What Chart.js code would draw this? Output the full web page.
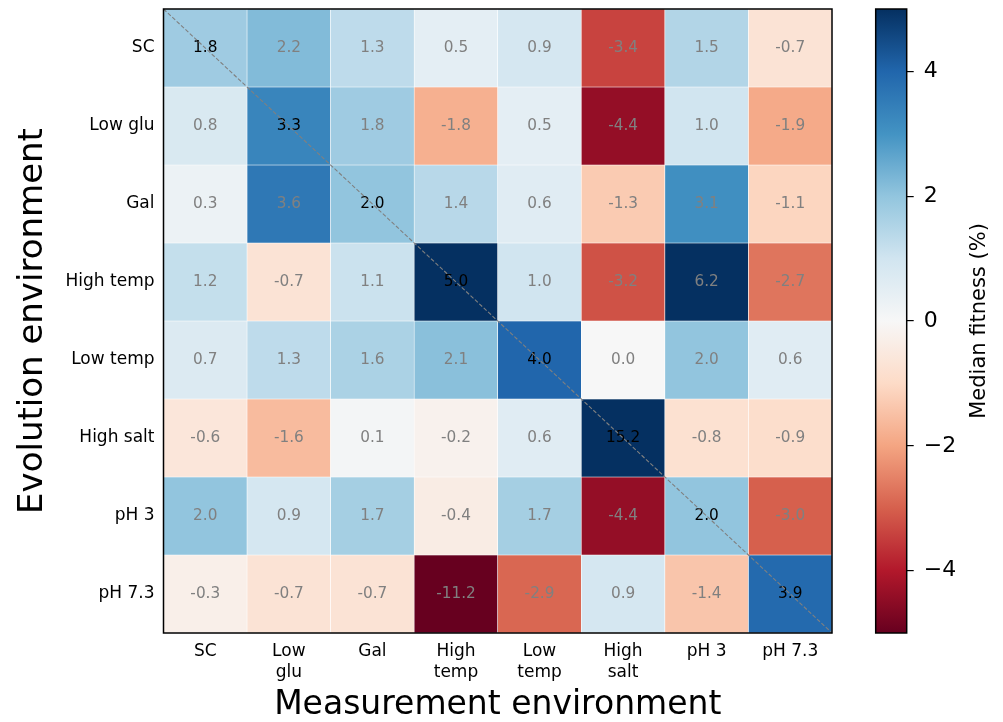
<!DOCTYPE html>
<html>
<head>
<meta charset="utf-8">
<script src="https://cdn.jsdelivr.net/npm/chart.js@4/dist/chart.umd.min.js"></script>
<style>
    html, body { margin: 0; padding: 0; background: #ffffff; }
    #wrap { position: relative; width: 1003px; height: 722px; overflow: hidden; }
    canvas { position: absolute; top: 0; }
    #heat { left: 0; }
    #bar { left: 860px; }
</style>
</head>
<body>
<div id="wrap">
    <canvas id="heat" width="860" height="722"></canvas>
    <canvas id="bar" width="143" height="722"></canvas>
</div>
<script>
// measurement environments (columns) and evolution environments (rows)
const measureLabels = [["SC"], ["Low", "glu"], ["Gal"], ["High", "temp"], ["Low", "temp"], ["High", "salt"], ["pH 3"], ["pH 7.3"]];
const evolveLabels = ["SC", "Low glu", "Gal", "High temp", "Low temp", "High salt", "pH 3", "pH 7.3"];

// median fitness (%), one array per evolution environment
const rowSC = [1.8, 2.2, 1.3, 0.5, 0.9, -3.4, 1.5, -0.7];
const rowLowGlu = [0.8, 3.3, 1.8, -1.8, 0.5, -4.4, 1.0, -1.9];
const rowGal = [0.3, 3.6, 2.0, 1.4, 0.6, -1.3, 3.1, -1.1];
const rowHighTemp = [1.2, -0.7, 1.1, 5.0, 1.0, -3.2, 6.2, -2.7];
const rowLowTemp = [0.7, 1.3, 1.6, 2.1, 4.0, 0.0, 2.0, 0.6];
const rowHighSalt = [-0.6, -1.6, 0.1, -0.2, 0.6, 15.2, -0.8, -0.9];
const rowPH3 = [2.0, 0.9, 1.7, -0.4, 1.7, -4.4, 2.0, -3.0];
const rowPH73 = [-0.3, -0.7, -0.7, -11.2, -2.9, 0.9, -1.4, 3.9];
const fitness = [rowSC, rowLowGlu, rowGal, rowHighTemp, rowLowTemp, rowHighSalt, rowPH3, rowPH73];

const colorbarTicks = [-4, -2, 0, 2, 4];
const vmin = -5;
const vmax = 5;

// matplotlib RdBu
const rdbu = ["#67001f", "#b2182b", "#d6604d", "#f4a582", "#fddbc7", "#f7f7f7",
    "#d1e5f0", "#92c5de", "#4393c3", "#2166ac", "#053061"];

const FONT = "'DejaVu Sans', 'Liberation Sans', sans-serif";

const hexToRgb = (hex) => [1, 3, 5].map((i) => parseInt(hex.slice(i, i + 2), 16));

function colorFor(v) {
    let t = (v - vmin) / (vmax - vmin);
    t = Math.max(0, Math.min(1, t));
    const pos = t * (rdbu.length - 1);
    const i = Math.min(Math.floor(pos), rdbu.length - 2);
    const f = pos - i;
    const a = hexToRgb(rdbu[i]);
    const b = hexToRgb(rdbu[i + 1]);
    const c = a.map((x, k) => Math.round(x + (b[k] - x) * f));
    return "rgb(" + c.join(",") + ")";
}

// chart.js pads vertical axes by half a label; the picture has none
const noEdgePad = (scale) => {
    scale.paddingTop = 0;
    scale.paddingBottom = 0;
};

const cellPlugin = {
    id: "cells",
    afterDatasetsDraw(chart) {
        const { ctx, chartArea } = chart;
        const xs = chart.scales.x;
        const ys = chart.scales.y;

        ctx.save();
        ctx.font = "15.3px " + FONT;
        ctx.textAlign = "center";
        ctx.textBaseline = "middle";
        fitness.forEach((row, r) => {
            row.forEach((v, c) => {
                ctx.fillStyle = r === c ? "#000000" : "#808080";
                ctx.fillText(v.toFixed(1), xs.getPixelForValue(c), ys.getPixelForValue(r + 0.5));
            });
        });
        ctx.restore();

        // diagonal dashed line
        ctx.save();
        ctx.strokeStyle = "#808080";
        ctx.lineWidth = 1.1;
        ctx.setLineDash([4, 2]);
        ctx.beginPath();
        ctx.moveTo(chartArea.left, chartArea.top);
        ctx.lineTo(chartArea.right, chartArea.bottom);
        ctx.stroke();
        ctx.restore();

        // frame
        ctx.save();
        ctx.strokeStyle = "#000000";
        ctx.lineWidth = 1.5;
        ctx.strokeRect(chartArea.left, chartArea.top, chartArea.right - chartArea.left, chartArea.bottom - chartArea.top);
        ctx.restore();
    },
};

const heatData = {
    labels: measureLabels,
    datasets: fitness.map((row, r) => ({
        label: evolveLabels[r],
        data: row.map(() => [r, r + 1]),
        backgroundColor: row.map(colorFor),
        borderColor: "#ffffff",
        borderWidth: 0.6,
        borderSkipped: false,
        barPercentage: 1,
        categoryPercentage: 1,
        grouped: false,
    })),
};

new Chart(document.getElementById("heat"), {
    type: "bar",
    data: heatData,
    options: {
        responsive: false,
        animation: false,
        events: [],
        layout: { padding: { top: 9, right: 28, bottom: 0, left: 0 } },
        plugins: { legend: { display: false }, tooltip: { enabled: false } },
        scales: {
            x: {
                grid: { display: false, drawTicks: false },
                border: { display: false },
                ticks: { color: "#000000", font: { family: FONT, size: 17, lineHeight: 1.25 }, padding: 8, maxRotation: 0, autoSkip: false },
                title: { display: true, text: "Measurement environment", color: "#000000", font: { family: FONT, size: 33, lineHeight: 1.0 }, padding: { top: 0, bottom: 0 } },
                afterFit: (scale) => {
                    scale.height = 89;
                    scale.paddingLeft = 0;
                    scale.paddingRight = 0;
                },
            },
            y: {
                type: "linear",
                min: 0,
                max: 8,
                reverse: true,
                grid: { display: false, drawTicks: false },
                border: { display: false },
                afterBuildTicks: (scale) => { scale.ticks = evolveLabels.map((_, i) => ({ value: i + 0.5 })); },
                ticks: { color: "#000000", font: { family: FONT, size: 17 }, padding: 9, autoSkip: false, callback: (v, i) => evolveLabels[i] },
                title: { display: true, text: "Evolution environment", color: "#000000", font: { family: FONT, size: 34 }, padding: { top: 13, bottom: 0 } },
                afterFit: (scale) => {
                    scale.width = 163.5;
                    noEdgePad(scale);
                },
            },
        },
    },
    plugins: [cellPlugin],
});

// colorbar
const barPlugin = {
    id: "cbar",
    afterDatasetsDraw(chart) {
        const { ctx, chartArea } = chart;
        ctx.save();
        ctx.strokeStyle = "#000000";
        ctx.lineWidth = 1.5;
        ctx.strokeRect(chartArea.left, chartArea.top, chartArea.right - chartArea.left, chartArea.bottom - chartArea.top);
        ctx.restore();

        ctx.save();
        ctx.translate(120, (chartArea.top + chartArea.bottom) / 2);
        ctx.rotate(-Math.PI / 2);
        ctx.font = "21px " + FONT;
        ctx.fillStyle = "#000000";
        ctx.textAlign = "center";
        ctx.textBaseline = "middle";
        ctx.fillText("Median fitness (%)", 0, 0);
        ctx.restore();
    },
};

function gradientFill(context) {
    const chart = context.chart;
    const ys = chart.scales.y;
    if (!chart.chartArea || !ys) {
        return rdbu[5];
    }
    const g = chart.ctx.createLinearGradient(0, ys.getPixelForValue(vmin), 0, ys.getPixelForValue(vmax));
    rdbu.forEach((c, i) => g.addColorStop(i / (rdbu.length - 1), c));
    return g;
}

new Chart(document.getElementById("bar"), {
    type: "bar",
    data: {
        labels: [""],
        datasets: [{ data: [[vmin, vmax]], backgroundColor: gradientFill, borderWidth: 0, barPercentage: 1, categoryPercentage: 1 }],
    },
    options: {
        responsive: false,
        animation: false,
        events: [],
        layout: { padding: { top: 9, right: 0, bottom: 89, left: 15.7 } },
        plugins: { legend: { display: false }, tooltip: { enabled: false } },
        scales: {
            x: { display: false },
            y: {
                position: "right",
                min: vmin,
                max: vmax,
                grid: { drawOnChartArea: false, drawTicks: true, tickLength: 7, color: "#000000", lineWidth: 1.2 },
                border: { display: false },
                afterBuildTicks: (scale) => { scale.ticks = colorbarTicks.map((v) => ({ value: v })); },
                ticks: { color: "#000000", font: { family: FONT, size: 22 }, padding: 10, callback: (v) => String(v).replace("-", "\u2212") },
                afterFit: (scale) => {
                    scale.width = 96.3;
                    noEdgePad(scale);
                },
            },
        },
    },
    plugins: [barPlugin],
});
</script>
</body>
</html>
